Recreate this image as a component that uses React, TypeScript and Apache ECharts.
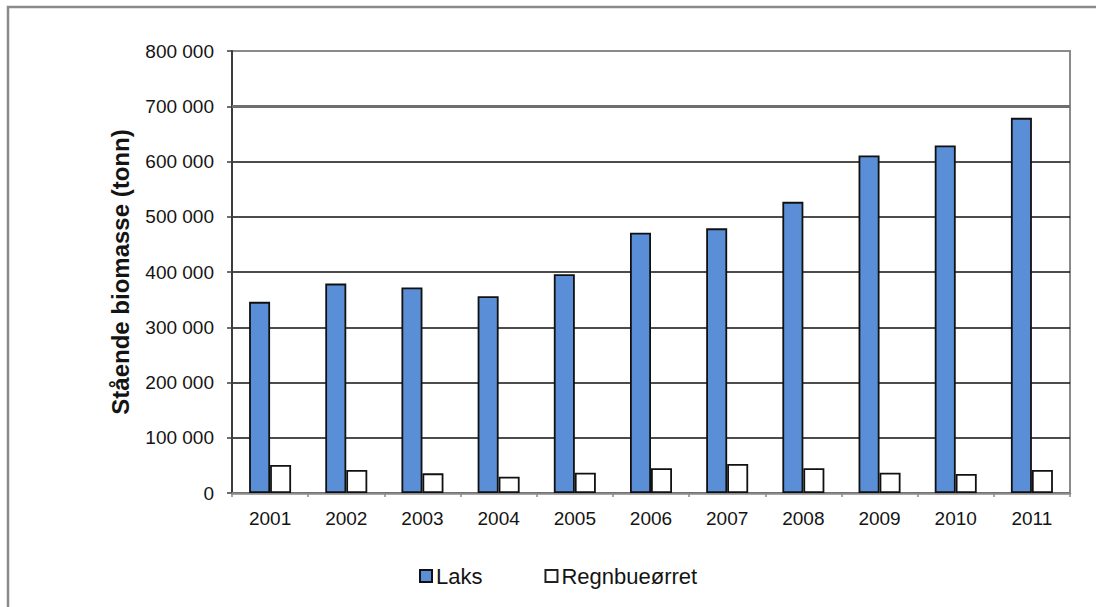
import React, { useEffect, useRef } from "react";
import * as echarts from "echarts";

const years = ["2001", "2002", "2003", "2004", "2005", "2006", "2007", "2008", "2009", "2010", "2011"];
const laks = [346000, 379000, 372000, 356000, 396000, 471000, 479000, 527000, 611000, 629000, 679000];
const regnbueorret = [50600, 41600, 35600, 29500, 36700, 44700, 52400, 44700, 36700, 34400, 41600];
const seriesNames = ["Laks", "Regnbueørret"];
const yTitle = "Stående biomasse (tonn)";

const fmt = (v: number) => String(v).replace(/\B(?=(\d{3})+(?!\d))/g, " ");

export default function App() {
  const ref = useRef<HTMLDivElement>(null);
  useEffect(() => {
    if (!ref.current) return;
    const chart = echarts.init(ref.current, undefined, { renderer: "svg" });
    const font = "Arial, 'Liberation Sans', sans-serif";
    chart.setOption({
      animation: false,
      backgroundColor: "#ffffff",
      textStyle: { fontFamily: font },
      graphic: [
        {
          type: "rect",
          shape: { x: 8, y: 7, width: 1200, height: 700 },
          style: { fill: "none", stroke: "#8a8a8a", lineWidth: 2.5 },
          silent: true,
        },
      ],
      grid: {
        left: 232,
        right: 26,
        top: 51,
        bottom: 114,
        show: true,
        borderColor: "#8a8a8a",
        borderWidth: 2,
      },
      legend: {
        left: 419,
        top: 565,
        padding: 0,
        itemWidth: 12,
        itemHeight: 12,
        itemGap: 62,
        icon: "rect",
        textStyle: { fontSize: 22, color: "#141414", fontFamily: font, padding: [0, 0, 0, -1] },
        data: [
          { name: seriesNames[0], itemStyle: { color: "#5a8ed6", borderColor: "#111", borderWidth: 2 } },
          { name: seriesNames[1], itemStyle: { color: "#ffffff", borderColor: "#222", borderWidth: 2 } },
        ],
      },
      xAxis: {
        type: "category",
        data: years,
        boundaryGap: true,
        axisLine: { lineStyle: { color: "#8a8a8a", width: 2.5 } },
        axisTick: { show: true, length: 4, lineStyle: { color: "#8a8a8a", width: 1.5 } },
        axisLabel: { fontSize: 19, color: "#141414", margin: 16, fontFamily: font },
      },
      yAxis: {
        type: "value",
        min: 0,
        max: 800000,
        interval: 100000,
        name: yTitle,
        nameLocation: "middle",
        nameGap: 100,
        nameTextStyle: { fontSize: 24, fontWeight: "bold", color: "#141414", fontFamily: font },
        axisLine: { show: true, lineStyle: { color: "#3c3c3c", width: 2 } },
        axisTick: { show: true, length: 5, lineStyle: { color: "#3c3c3c", width: 1.5 } },
        axisLabel: { fontSize: 19, color: "#141414", margin: 18, formatter: (v: number) => fmt(v), fontFamily: font },
        splitLine: {
          show: true,
          lineStyle: {
            color: ["#111", "#111", "#111", "#111", "#111", "#111", "#111", "#777", "#8a8a8a"],
            width: 1.5,
          },
        },
      },
      series: [
        {
          name: seriesNames[0],
          type: "bar",
          data: laks,
          barWidth: 21,
          barGap: "0%",
          itemStyle: { color: "#5a8ed6", borderColor: "#111", borderWidth: 1.8 },
          markLine: {
            silent: true,
            symbol: "none",
            label: { show: false },
            lineStyle: { color: "#6e6e6e", width: 3, type: "solid" },
            data: [{ yAxis: 700000 }],
            z: 1,
          },
        },
        {
          name: seriesNames[1],
          type: "bar",
          data: regnbueorret,
          barWidth: 21,
          barGap: "0%",
          itemStyle: { color: "#ffffff", borderColor: "#111", borderWidth: 1.8 },
        },
      ],
    });
    return () => chart.dispose();
  }, []);
  return (
    <div
      ref={ref}
      style={{ position: "fixed", left: 0, top: 0, width: 1096, height: 607 }}
    />
  );
}
